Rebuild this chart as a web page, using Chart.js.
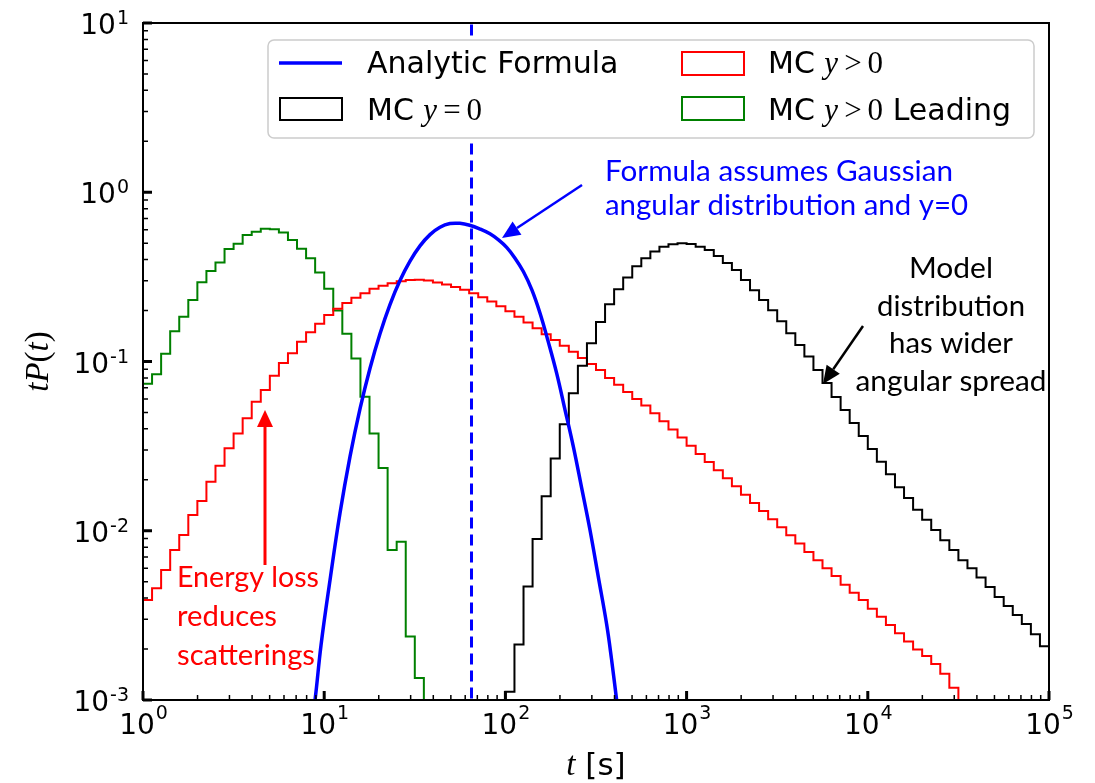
<!DOCTYPE html>
<html>
<head>
<meta charset="utf-8">
<script src="https://cdn.jsdelivr.net/npm/chart.js@4.4.0/dist/chart.umd.min.js"></script>
<style>
  html, body { margin: 0; padding: 0; background: #fff; }
  #wrap { width: 1095px; height: 783px; }
</style>
</head>
<body>
<div id="wrap"><canvas id="timeChart" width="1095" height="783"></canvas></div>
<script>
// Histograms use 20 log-spaced bins per decade, starting at t = 1 s
const binsPerDecade = 20;

// MC y>0 Leading (green), first bin = 0
const leadingStart = 0;
const leadingValues = [
    0.074, 0.084, 0.111, 0.151, 0.184, 0.231, 0.294, 0.343, 0.384, 0.462,
    0.497, 0.559, 0.585, 0.609, 0.604, 0.578, 0.522, 0.463, 0.407, 0.336,
    0.269, 0.200, 0.146, 0.104, 0.062, 0.0376, 0.0235, 0.0077, 0.0086, 0.00237,
    0.00135
];

// MC y>0 (red), first bin = 0
const mcPosStart = 0;
const mcPosValues = [
    0.0039, 0.00457, 0.00586, 0.00769, 0.00944, 0.0124, 0.0150, 0.0195, 0.0242, 0.0307,
    0.0376, 0.0462, 0.0579, 0.0679, 0.0825, 0.098, 0.112, 0.131, 0.149, 0.167,
    0.188, 0.205, 0.222, 0.238, 0.253, 0.269, 0.280, 0.290, 0.298, 0.303,
    0.304, 0.301, 0.293, 0.285, 0.276, 0.265, 0.253, 0.240, 0.226, 0.212,
    0.198, 0.184, 0.170, 0.157, 0.145, 0.134, 0.124, 0.114, 0.105, 0.0966,
    0.089, 0.080, 0.073, 0.066, 0.060, 0.055, 0.0495, 0.0443, 0.0397, 0.0355,
    0.0318, 0.0284, 0.0255, 0.0228, 0.0204, 0.0183, 0.0163, 0.0146, 0.0131, 0.0117,
    0.0105, 0.0094, 0.0084, 0.0075, 0.0067, 0.0060, 0.0054, 0.0048, 0.0043, 0.0039,
    0.00346, 0.0031, 0.00277, 0.00248, 0.00222, 0.00199, 0.00182, 0.00163, 0.00143, 0.00118
];

// MC y=0 (black), first bin = 40 (t = 100 s)
const mcZeroStart = 40;
const mcZeroValues = [
    0.00112, 0.00213, 0.00468, 0.00893, 0.0160, 0.0267, 0.0426, 0.0649, 0.0945, 0.128,
    0.171, 0.218, 0.267, 0.314, 0.366, 0.407, 0.446, 0.477, 0.493, 0.499,
    0.495, 0.477, 0.456, 0.420, 0.382, 0.347, 0.303, 0.264, 0.231, 0.201,
    0.173, 0.147, 0.125, 0.107, 0.0891, 0.0746, 0.0617, 0.0517, 0.0433, 0.0363,
    0.0304, 0.0256, 0.0216, 0.0181, 0.0156, 0.0133, 0.0116, 0.0101, 0.0088, 0.0077,
    0.0067, 0.0060, 0.0053, 0.00465, 0.00406, 0.00359, 0.00318, 0.00281, 0.00245, 0.00208
];

// Analytic formula curve (blue)
const formulaT = [8.3, 8.9, 9.6, 10.77, 12.22, 13.88, 15.76, 17.9, 20.32, 23.07, 26.19,
    29.76, 33.78, 38.36, 43.55, 49.45, 56.1, 63.5, 72, 82.2, 92, 101.6, 113, 125.6, 140,
    155.3, 172, 191.9, 213, 237.1, 263, 293, 326, 362, 385, 411, 440];
const formulaValues = [0.0006, 0.001, 0.0021, 0.00512, 0.01268, 0.0274, 0.0525, 0.0912, 0.146, 0.217, 0.301,
    0.392, 0.482, 0.562, 0.621, 0.653, 0.655, 0.638, 0.608, 0.568, 0.521, 0.472, 0.408, 0.340, 0.265,
    0.193, 0.132, 0.0851, 0.0522, 0.0314, 0.0181, 0.0101, 0.0053, 0.0028, 0.00175, 0.001, 0.00056];

// vertical dashed marker
const markerT = 65;

// axis decades
const xDecades = [0, 1, 2, 3, 4, 5];
const yDecades = [-3, -2, -1, 0, 1];

const BLUE = '#0000ff';
const RED = '#ff0000';
const GREEN = '#008000';
const BLACK = '#000000';
const BELOW = 1e-5;

function stepPoints(startBin, values) {
    const edge = i => Math.pow(10, i / binsPerDecade);
    const pts = [{x: edge(startBin), y: BELOW}];
    values.forEach((v, i) => pts.push({x: edge(startBin + i), y: v}));
    const end = edge(startBin + values.length);
    pts.push({x: end, y: values[values.length - 1]});
    pts.push({x: end, y: BELOW});
    return pts;
}

function arrow(ctx, x1, y1, x2, y2, color, lw, headLen, headHalf) {
    const ang = Math.atan2(y2 - y1, x2 - x1);
    const bx = x2 - headLen * Math.cos(ang);
    const by = y2 - headLen * Math.sin(ang);
    ctx.strokeStyle = color;
    ctx.lineWidth = lw;
    ctx.beginPath();
    ctx.moveTo(x1, y1);
    ctx.lineTo(bx, by);
    ctx.stroke();
    ctx.fillStyle = color;
    ctx.beginPath();
    ctx.moveTo(x2, y2);
    ctx.lineTo(bx + headHalf * Math.sin(ang), by - headHalf * Math.cos(ang));
    ctx.lineTo(bx - headHalf * Math.sin(ang), by + headHalf * Math.cos(ang));
    ctx.closePath();
    ctx.fill();
}

// draw text squeezed/stretched to a given width
function fitText(ctx, text, x, y, width, align) {
    const w = ctx.measureText(text).width;
    ctx.save();
    ctx.translate(x, y);
    ctx.scale(width / w, 1);
    ctx.textAlign = align;
    ctx.fillText(text, 0, 0);
    ctx.restore();
}

function drawLegend(ctx) {
    ctx.save();
    ctx.fillStyle = '#ffffff';
    ctx.strokeStyle = '#cccccc';
    ctx.lineWidth = 1.5;
    ctx.beginPath();
    ctx.roundRect(268, 40, 766, 98, 6);
    ctx.fill();
    ctx.stroke();

    // handles
    ctx.strokeStyle = BLUE;
    ctx.lineWidth = 3.5;
    ctx.beginPath();
    ctx.moveTo(279, 63);
    ctx.lineTo(342, 63);
    ctx.stroke();
    ctx.lineWidth = 2;
    ctx.strokeStyle = RED;
    ctx.strokeRect(682, 52, 62, 23);
    ctx.strokeStyle = BLACK;
    ctx.strokeRect(280, 98, 62, 22);
    ctx.strokeStyle = GREEN;
    ctx.strokeRect(682, 97, 62, 23);

    const sans = '30px "DejaVu Sans"';
    const ital = 'italic 31px "Liberation Serif"';
    const rom = '31px "Liberation Serif"';
    ctx.fillStyle = BLACK;
    ctx.textAlign = 'left';
    ctx.textBaseline = 'alphabetic';
    ctx.font = sans;
    ctx.fillText('Analytic Formula', 367, 73);

    function piece(text, font, x, y) {
        ctx.font = font;
        ctx.fillText(text, x, y);
        return x + ctx.measureText(text).width;
    }
    function mcLabel(x, y, rel, extra) {
        let cx = piece('MC ', sans, x, y);
        cx = piece('y', ital, cx, y) + 6;
        cx = piece(rel, rom, cx, y) + 6;
        cx = piece('0', rom, cx, y);
        if (extra) {
            piece(' ' + extra, sans, cx, y);
        }
    }
    mcLabel(768, 73, '>', '');
    mcLabel(367, 120, '=', '');
    mcLabel(768, 120, '>', 'Leading');
    ctx.restore();
}

function drawAnnotations(ctx) {
    ctx.save();
    ctx.textBaseline = 'alphabetic';
    const ann = '28px Lato';

    // blue note
    ctx.fillStyle = BLUE;
    ctx.font = ann;
    fitText(ctx, 'Formula assumes Gaussian', 605, 181, 348, 'left');
    fitText(ctx, 'angular distribution and y=0', 605, 215, 363, 'left');
    arrow(ctx, 582, 185, 502, 238, BLUE, 2.5, 18, 8);

    // black note
    ctx.fillStyle = BLACK;
    fitText(ctx, 'Model', 951, 278, 84, 'center');
    fitText(ctx, 'distribution', 951, 316, 148, 'center');
    fitText(ctx, 'has wider', 951, 353, 124, 'center');
    fitText(ctx, 'angular spread', 951, 391, 191, 'center');
    arrow(ctx, 863, 326, 823, 384, BLACK, 2.5, 18, 8);

    // red note
    ctx.fillStyle = RED;
    fitText(ctx, 'Energy loss', 177, 587, 142, 'left');
    fitText(ctx, 'reduces', 177, 626, 100, 'left');
    fitText(ctx, 'scatterings', 177, 665, 138, 'left');
    arrow(ctx, 265, 565, 265, 410, RED, 3, 17, 8);
    ctx.restore();
}

function drawFrame(ctx, area, xs, ys) {
    ctx.save();
    ctx.strokeStyle = BLACK;

    // minor ticks, inward
    ctx.lineWidth = 1.5;
    ctx.beginPath();
    xDecades.slice(0, -1).forEach(e => {
        for (let m = 2; m <= 9; m++) {
            const x = xs.getPixelForValue(m * Math.pow(10, e));
            ctx.moveTo(x, area.bottom);
            ctx.lineTo(x, area.bottom - 5);
        }
    });
    yDecades.slice(0, -1).forEach(e => {
        for (let m = 2; m <= 9; m++) {
            const y = ys.getPixelForValue(m * Math.pow(10, e));
            ctx.moveTo(area.left, y);
            ctx.lineTo(area.left + 5, y);
        }
    });
    ctx.stroke();

    // major ticks
    ctx.lineWidth = 3;
    ctx.beginPath();
    xDecades.forEach(e => {
        const x = xs.getPixelForValue(Math.pow(10, e));
        ctx.moveTo(x, area.bottom);
        ctx.lineTo(x, area.bottom - 9);
    });
    yDecades.forEach(e => {
        const y = ys.getPixelForValue(Math.pow(10, e));
        ctx.moveTo(area.left, y);
        ctx.lineTo(area.left + 9, y);
    });
    ctx.stroke();

    // spines
    ctx.lineWidth = 2;
    ctx.strokeRect(area.left, area.top, area.right - area.left, area.bottom - area.top);

    // tick labels: 10 with superscript exponent
    ctx.fillStyle = BLACK;
    ctx.textBaseline = 'alphabetic';
    ctx.textAlign = 'left';
    const big = '28px "DejaVu Sans"';
    const sup = '19px "DejaVu Sans"';
    xDecades.forEach(e => {
        const x = xs.getPixelForValue(Math.pow(10, e));
        const exp = String(e);
        ctx.font = big;
        const w1 = ctx.measureText('10').width;
        ctx.font = sup;
        const w2 = ctx.measureText(exp).width;
        const x0 = x - (w1 + w2) / 2;
        ctx.font = big;
        ctx.fillText('10', x0, 734);
        ctx.font = sup;
        ctx.fillText(exp, x0 + w1 + 1, 719);
    });
    yDecades.forEach(e => {
        const y = ys.getPixelForValue(Math.pow(10, e));
        const exp = e < 0 ? '-' + Math.abs(e) : String(e);
        ctx.font = sup;
        const w2 = ctx.measureText(exp).width;
        ctx.font = big;
        const w1 = ctx.measureText('10').width;
        const right = 129;
        ctx.fillText('10', right - w2 - 1 - w1, y + 11);
        ctx.font = sup;
        ctx.fillText(exp, right - w2, y + 1);
    });

    // axis titles
    const it = 'italic 33px "Liberation Serif"';
    const rm = '33px "Liberation Serif"';
    const unit = '31px "DejaVu Sans"';
    ctx.font = it;
    const wt = ctx.measureText('t').width;
    ctx.font = unit;
    const ws = ctx.measureText(' [s]').width;
    const xc = (area.left + area.right) / 2;
    let cx = xc - (wt + ws) / 2;
    ctx.font = it;
    ctx.fillText('t', cx, 775);
    ctx.font = unit;
    ctx.fillText(' [s]', cx + wt, 775);

    ctx.save();
    ctx.translate(48, (area.top + area.bottom) / 2);
    ctx.rotate(-Math.PI / 2);
    const parts = [['t', it], ['P', it], ['(', rm], ['t', it], [')', rm]];
    let total = 0;
    parts.forEach(p => { ctx.font = p[1]; total += ctx.measureText(p[0]).width; });
    cx = -total / 2;
    parts.forEach(p => {
        ctx.font = p[1];
        ctx.fillText(p[0], cx, 0);
        cx += ctx.measureText(p[0]).width;
    });
    ctx.restore();
    ctx.restore();
}

const decorPlugin = {
    id: 'decor',
    afterDatasetsDraw(chart) {
        const ctx = chart.ctx;
        drawLegend(ctx);
        drawAnnotations(ctx);
        drawFrame(ctx, chart.chartArea, chart.scales.x, chart.scales.y);
    }
};

const formulaPoints = formulaT.map((t, i) => ({x: t, y: formulaValues[i]}));

const ctx = document.getElementById('timeChart').getContext('2d');
new Chart(ctx, {
    type: 'line',
    data: {
        datasets: [
            {
                label: 'Analytic Formula',
                data: formulaPoints,
                borderColor: BLUE,
                borderWidth: 3.5,
                tension: 0.4,
                pointRadius: 0,
                clip: 0,
                order: 0
            },
            {
                label: 'marker',
                data: [{x: markerT, y: BELOW}, {x: markerT, y: 1e3}],
                borderColor: BLUE,
                borderWidth: 3,
                borderDash: [11, 6],
                pointRadius: 0,
                clip: 0,
                order: 1
            },
            {
                label: 'MC y=0',
                data: stepPoints(mcZeroStart, mcZeroValues),
                borderColor: BLACK,
                borderWidth: 2,
                stepped: 'before',
                pointRadius: 0,
                clip: 0,
                order: 2
            },
            {
                label: 'MC y>0',
                data: stepPoints(mcPosStart, mcPosValues),
                borderColor: RED,
                borderWidth: 2,
                stepped: 'before',
                pointRadius: 0,
                clip: 0,
                order: 3
            },
            {
                label: 'MC y>0 Leading',
                data: stepPoints(leadingStart, leadingValues),
                borderColor: GREEN,
                borderWidth: 2,
                stepped: 'before',
                pointRadius: 0,
                clip: 0,
                order: 4
            }
        ]
    },
    options: {
        responsive: false,
        animation: false,
        devicePixelRatio: 1,
        layout: {
            padding: {left: 143, top: 23, right: 46, bottom: 83}
        },
        plugins: {
            legend: {display: false},
            tooltip: {enabled: false}
        },
        scales: {
            x: {
                type: 'logarithmic',
                min: 1,
                max: 1e5,
                display: false
            },
            y: {
                type: 'logarithmic',
                min: 1e-3,
                max: 10,
                display: false
            }
        }
    },
    plugins: [decorPlugin]
});
</script>
</body>
</html>
